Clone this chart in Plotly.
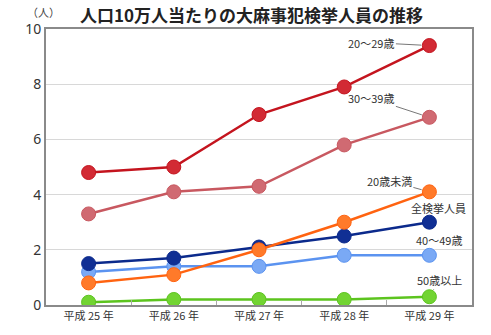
import plotly.graph_objects as go

years = ["平成 25 年", "平成 26 年", "平成 27 年", "平成 28 年", "平成 29 年"]
s_20s = [4.8, 5.0, 6.9, 7.9, 9.4]
s_30s = [3.3, 4.1, 4.3, 5.8, 6.8]
s_u20 = [0.8, 1.1, 2.0, 3.0, 4.1]
s_all = [1.5, 1.7, 2.1, 2.5, 3.0]
s_40s = [1.2, 1.4, 1.4, 1.8, 1.8]
s_50p = [0.1, 0.2, 0.2, 0.2, 0.3]

series = [
    ("50歳以上", s_50p, "#5cc41e", "#72d432", (10, -17)),
    ("40～49歳", s_40s, "#5b93f0", "#7aa9f5", (10, -15)),
    ("全検挙人員", s_all, "#0b2a8c", "#102f94", (9, -14)),
    ("20歳未満", s_u20, "#ff6310", "#ff7a2a", (-40, -11)),
    ("30～39歳", s_30s, "#c85860", "#d06a72", (-58, -19)),
    ("20～29歳", s_20s, "#c4141e", "#d22a34", (-58, -3)),
]

fig = go.Figure()
for name, vals, lc, mc, off in series:
    fig.add_trace(go.Scatter(
        x=years, y=vals, mode="lines+markers", name=name,
        line=dict(color=lc, width=2.5),
        marker=dict(size=14, color=mc, line=dict(color=lc, width=1)),
        hoverinfo="skip",
    ))
    fig.add_annotation(
        x=years[-1], y=vals[-1], text=name, showarrow=True,
        ax=off[0], ay=off[1], arrowhead=0, arrowwidth=1, arrowcolor="#777",
        standoff=8, font=dict(size=11, color="#333", family="Noto Sans CJK JP"),
    )

fig.add_annotation(xref="paper", yref="paper", x=-0.006, y=1.0, yshift=17,
                   yanchor="middle", text="（人）", showarrow=False, xanchor="center",
                   font=dict(size=11, color="#444", family="Noto Sans CJK JP"))
fig.add_annotation(xref="paper", yref="paper", x=0.075, y=1.0, yshift=15,
                   yanchor="middle",
                   text="<b>人口10万人当たりの大麻事犯検挙人員の推移</b>",
                   showarrow=False, xanchor="left",
                   font=dict(size=17, color="#222", family="Noto Sans CJK JP"))

fig.update_layout(
    width=491, height=335,
    margin=dict(l=46, r=19, t=29, b=20),
    paper_bgcolor="white", plot_bgcolor="white",
    showlegend=False,
    xaxis=dict(type="category", range=[-0.5, 4.5], showgrid=False,
               showline=True, linecolor="#8a8a8a", linewidth=2, mirror=True,
               ticks="inside", tickson="boundaries", ticklen=5, tickcolor="#aaa",
               tickfont=dict(size=11, color="#333", family="Noto Sans CJK JP")),
    yaxis=dict(range=[0, 10], dtick=2, showgrid=True, gridcolor="#d8d8d8",
               gridwidth=1, showline=True, linecolor="#8a8a8a", linewidth=2,
               mirror=True, zeroline=False, ticks="",
               tickfont=dict(size=14, color="#333", family="Noto Sans")),
)

fig.write_html("out.html")
